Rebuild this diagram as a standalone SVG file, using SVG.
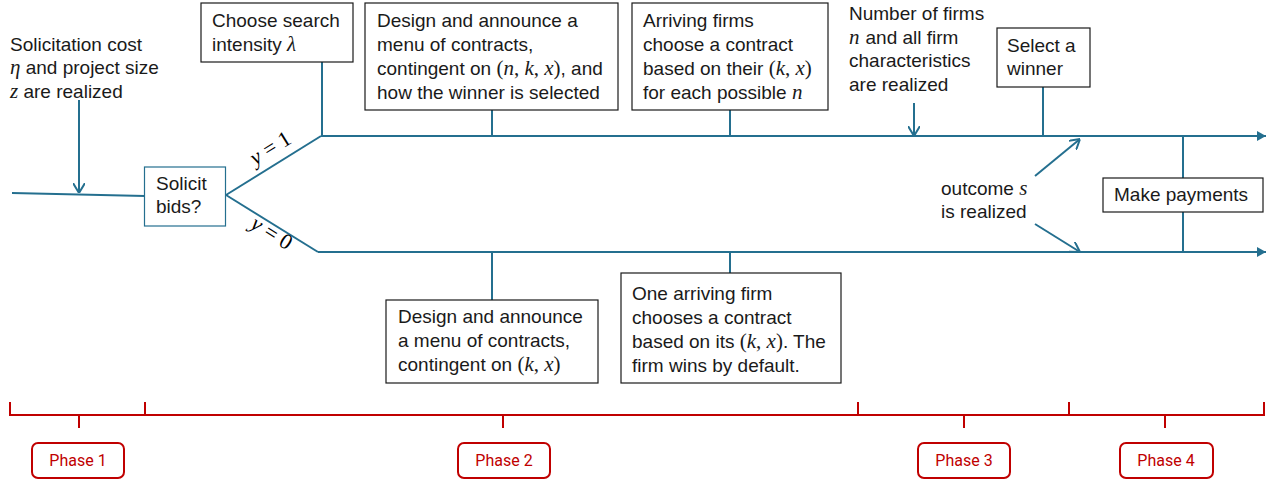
<svg xmlns="http://www.w3.org/2000/svg" width="1274" height="485" viewBox="0 0 1274 485">
<style>
.t{font-family:"Liberation Sans",Arial,sans-serif;font-size:19px;fill:#1a1a1a}
.m{font-family:"Liberation Serif","Times New Roman",serif;font-style:italic;font-size:21px}
.r{font-family:"Liberation Serif","Times New Roman",serif;font-style:normal;font-size:21px}
.yl{font-size:22px}
.box{fill:#fff;stroke:#1a1a1a;stroke-width:1.2}
.sbox{fill:#fff;stroke:#246f8f;stroke-width:1.2}
.ln{stroke:#246f8f;stroke-width:2;fill:none}
.red{stroke:#c00000;stroke-width:2;fill:none}
.pbox{fill:#fff;stroke:#c00000;stroke-width:2}
.pt{font-family:Roboto,"Liberation Sans",sans-serif;font-size:16px;fill:#c00000;text-anchor:middle}
</style>
<defs>
<marker id="chev" viewBox="0 0 10 12" refX="10" refY="6" markerWidth="10" markerHeight="12" markerUnits="userSpaceOnUse" orient="auto">
<path d="M0,0 L10,6 L0,12" fill="none" stroke="#246f8f" stroke-width="2"/>
</marker>
<marker id="tri" viewBox="0 0 9 10" refX="9" refY="5" markerWidth="9" markerHeight="10" markerUnits="userSpaceOnUse" orient="auto">
<path d="M0,0 L9,5 L0,10 Z" fill="#246f8f"/>
</marker>
</defs>

<g id="connectors">
<path class="ln" d="M12,193 L145,196"/>
<path class="ln" d="M79,100 V193" marker-end="url(#chev)"/>
<path class="ln" d="M226,195 L321,136"/>
<path class="ln" d="M226,195 L318,252"/>
<path class="ln" d="M321,136 H1266" marker-end="url(#tri)"/>
<path class="ln" d="M318,252 H1266" marker-end="url(#tri)"/>
<path class="ln" d="M322,62 V136"/>
<path class="ln" d="M492,110 V136"/>
<path class="ln" d="M730,110 V136"/>
<path class="ln" d="M914,103 V136" marker-end="url(#chev)"/>
<path class="ln" d="M1043,87 V136"/>
<path class="ln" d="M1035,176 L1080,139" marker-end="url(#chev)"/>
<path class="ln" d="M1035,224 L1080,252" marker-end="url(#chev)"/>
<path class="ln" d="M1183,136 V252"/>
<path class="ln" d="M492,252 V300"/>
<path class="ln" d="M730,252 V273"/>
</g>

<g id="label-solicitation">
<text class="t" x="10" y="50.5">Solicitation cost</text>
<text class="t" x="10" y="74"><tspan class="m">η</tspan> and project size</text>
<text class="t" x="10" y="97.5"><tspan class="m">z</tspan> are realized</text>
</g>

<g id="node-solicit">
<rect class="sbox" x="144.5" y="167" width="81" height="59"/>
<text class="t" x="156" y="190">Solicit</text>
<text class="t" x="156" y="213">bids?</text>
</g>

<g id="branch-labels">
<text class="m yl" transform="translate(274,154) rotate(-32)" text-anchor="middle">y<tspan class="r yl"> = 1</tspan></text>
<text class="m yl" transform="translate(268,239) rotate(32)" text-anchor="middle">y<tspan class="r yl"> = 0</tspan></text>
</g>

<g id="node-search">
<rect class="box" x="201" y="3" width="152" height="59"/>
<text class="t" x="212" y="27">Choose search</text>
<text class="t" x="212" y="51">intensity <tspan class="m">λ</tspan></text>
</g>

<g id="node-design1">
<rect class="box" x="365" y="3" width="253" height="107"/>
<text class="t" x="377" y="27">Design and announce a</text>
<text class="t" x="377" y="51">menu of contracts,</text>
<text class="t" x="377" y="75">contingent on <tspan class="r">(</tspan><tspan class="m">n</tspan><tspan class="r">, </tspan><tspan class="m">k</tspan><tspan class="r">, </tspan><tspan class="m">x</tspan><tspan class="r">)</tspan>, and</text>
<text class="t" x="377" y="99">how the winner is selected</text>
</g>

<g id="node-arriving">
<rect class="box" x="632" y="3" width="196" height="107"/>
<text class="t" x="643" y="27">Arriving firms</text>
<text class="t" x="643" y="51">choose a contract</text>
<text class="t" x="643" y="75">based on their <tspan class="r">(</tspan><tspan class="m">k</tspan><tspan class="r">, </tspan><tspan class="m">x</tspan><tspan class="r">)</tspan></text>
<text class="t" x="643" y="99">for each possible <tspan class="m">n</tspan></text>
</g>

<g id="label-number">
<text class="t" x="849" y="20">Number of firms</text>
<text class="t" x="849" y="43.5"><tspan class="m">n</tspan><tspan dx="6">and all firm</tspan></text>
<text class="t" x="849" y="67">characteristics</text>
<text class="t" x="849" y="91">are realized</text>
</g>

<g id="node-select">
<rect class="box" x="997" y="28" width="93" height="59"/>
<text class="t" x="1007" y="52">Select a</text>
<text class="t" x="1007" y="75">winner</text>
</g>

<g id="label-outcome">
<text class="t" x="941" y="195">outcome <tspan class="m">s</tspan></text>
<text class="t" x="941" y="218">is realized</text>
</g>

<g id="node-payments">
<rect class="box" x="1103" y="178" width="160" height="34"/>
<text class="t" x="1114" y="201">Make payments</text>
</g>

<g id="node-design0">
<rect class="box" x="386" y="300" width="212" height="83"/>
<text class="t" x="398" y="323">Design and announce</text>
<text class="t" x="398" y="347">a menu of contracts,</text>
<text class="t" x="398" y="371">contingent on <tspan class="r">(</tspan><tspan class="m">k</tspan><tspan class="r">, </tspan><tspan class="m">x</tspan><tspan class="r">)</tspan></text>
</g>

<g id="node-onefirm">
<rect class="box" x="621" y="273" width="220" height="110"/>
<text class="t" x="632" y="300">One arriving firm</text>
<text class="t" x="632" y="324">chooses a contract</text>
<text class="t" x="632" y="348">based on its <tspan class="r">(</tspan><tspan class="m">k</tspan><tspan class="r">, </tspan><tspan class="m">x</tspan><tspan class="r">)</tspan>. The</text>
<text class="t" x="632" y="372">firm wins by default.</text>
</g>

<g id="timeline">
<path class="red" d="M10,402 V415 H1264 V402"/>
<path class="red" d="M145,402 V415 M858,402 V415 M1069,402 V415"/>
<path class="red" d="M79,415 V428 M503,415 V428 M964,415 V428 M1165,415 V428"/>
</g>

<g id="phase1"><rect class="pbox" x="32" y="443" width="92" height="35" rx="6"/><text class="pt" x="78" y="466">Phase 1</text></g>
<g id="phase2"><rect class="pbox" x="458" y="443" width="92" height="35" rx="6"/><text class="pt" x="504" y="466">Phase 2</text></g>
<g id="phase3"><rect class="pbox" x="918" y="443" width="92" height="35" rx="6"/><text class="pt" x="964" y="466">Phase 3</text></g>
<g id="phase4"><rect class="pbox" x="1120" y="443" width="93" height="35" rx="6"/><text class="pt" x="1166" y="466">Phase 4</text></g>
</svg>
